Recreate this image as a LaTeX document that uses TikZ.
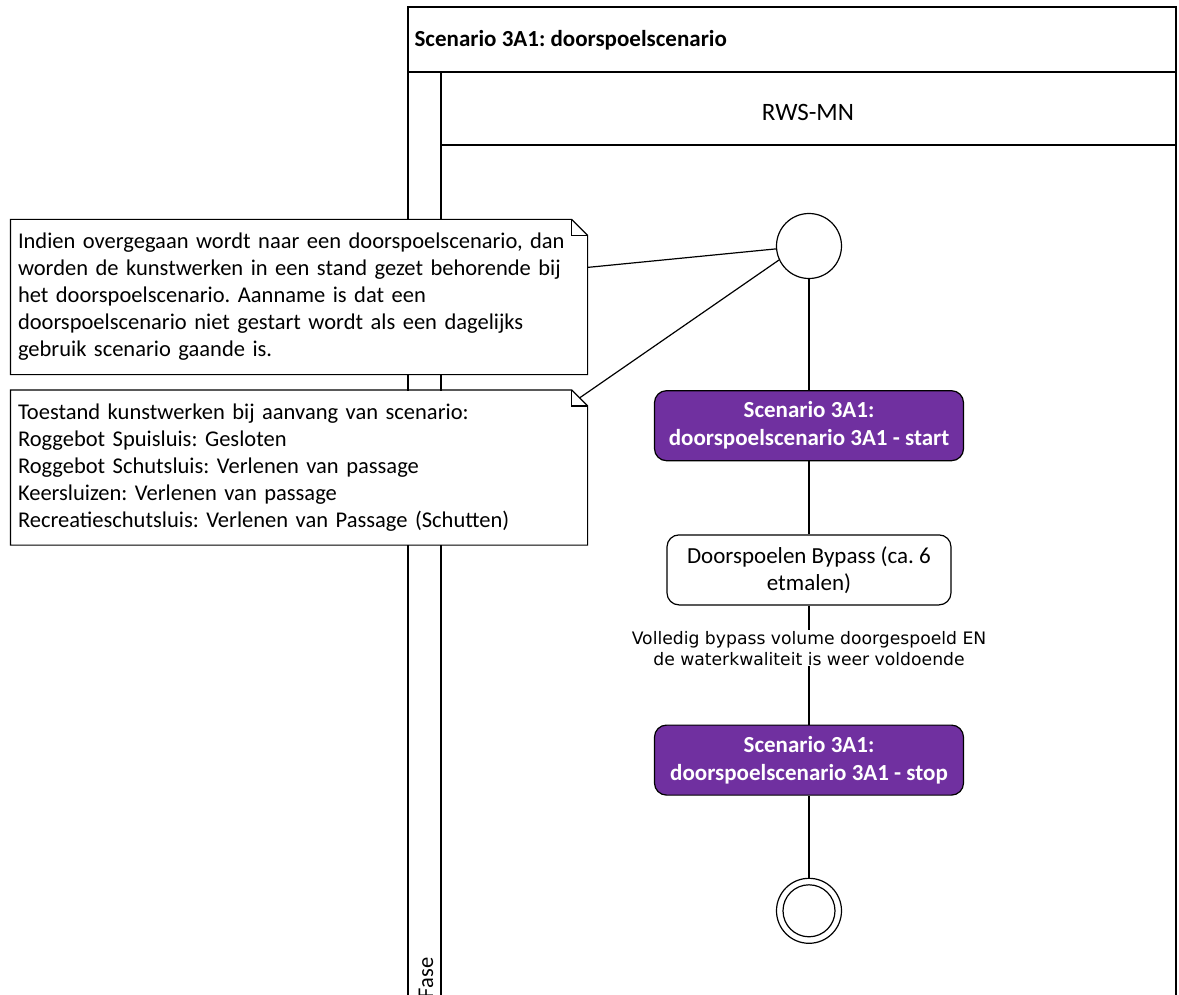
\documentclass[tikz,border=0pt]{standalone}
\usepackage{fontspec}
\setmainfont{Carlito}
\newfontfamily\labelfont{DejaVu Sans}
\usepackage{xcolor}
\usetikzlibrary{positioning}
\definecolor{scenpurple}{HTML}{7030A0}
\frenchspacing

\begin{document}
\begin{tikzpicture}[x=1pt,y=-1pt,>=latex,line width=1.2pt,
                    every node/.style={font=\fontsize{22.5}{27}\selectfont},
                    note/.style={minimum width=576pt, minimum height=154pt, text width=562pt,
                                 inner xsep=7pt, align=left, fill=white},
                    scenbox/.style={draw, rounded corners=12pt, fill=scenpurple, text=white,
                                    font=\fontsize{23}{28}\selectfont\bfseries, align=center,
                                    minimum width=309pt, minimum height=70pt},
                    actbox/.style={draw, rounded corners=12pt, fill=white, align=center,
                                   minimum width=284pt, minimum height=70pt,
                                   font=\fontsize{23}{27}\selectfont},
                    state/.style={draw, circle, minimum size=65pt, inner sep=0pt, fill=white},
                    guard/.style={fill=white, inner sep=1pt, align=center,
                                  font=\labelfont\fontsize{17.2}{21}\selectfont}]
\useasboundingbox (0,0) rectangle (1179,995);
% swimlane frame
\draw (408,7) rectangle (1176,1010);
\draw (408,72) -- (1176,72);
\draw (441,72) -- (441,1010);
\draw (441,145) -- (1176,145);
\node[anchor=west, inner xsep=0pt, font=\fontsize{23}{27}\selectfont\bfseries] (title) at (414,40) {Scenario 3A1: doorspoelscenario};
\node[font=\fontsize{25}{27}\selectfont] (lane) at (808,112) {RWS-MN};
\node[rotate=90, anchor=east, inner sep=0pt] (fase) at (426,957) {Fase};

% flow
\node[state] (init) at (809,246) {};
\node[scenbox, below=111pt of init] (start) {Scenario 3A1:\\doorspoelscenario 3A1 - start};
\node[actbox, below=73pt of start] (bypass) {Doorspoelen Bypass (ca. 6\\etmalen)};
\node[scenbox, below=119pt of bypass] (stop) {Scenario 3A1:\\doorspoelscenario 3A1 - stop};
\node[state, below=82pt of stop] (final) {};
\draw (final.center) circle[radius=26pt];
\draw (init) -- (start);
\draw (start) -- (bypass);
\draw (bypass) -- node[guard, pos=0.36] (cond) {Volledig bypass volume doorgespoeld EN\\de waterkwaliteit is weer voldoende} (stop);
\draw (stop) -- (final);

% notes
\node[note] (n1) at (299,297) {Indien overgegaan wordt naar een doorspoelscenario, dan\\worden de kunstwerken in een stand gezet behorende bij\\het doorspoelscenario. Aanname is dat een\\doorspoelscenario niet gestart wordt als een dagelijks\\gebruik scenario gaande is.};
\node[note] (n2) at (299,467.5) {Toestand kunstwerken bij aanvang van scenario:\\Roggebot Spuisluis: Gesloten\\Roggebot Schutsluis: Verlenen van passage\\Keersluizen: Verlenen van passage\\Recreatieschutsluis: Verlenen van Passage (Schutten)};
\foreach \n in {n1,n2} {
  \draw (\n.north west) -- ([xshift=-16pt]\n.north east) -- ([yshift=-16pt]\n.north east)
        -- (\n.south east) -- (\n.south west) -- cycle;
  \draw ([xshift=-16pt]\n.north east) |- ([yshift=-16pt]\n.north east);
}
\draw ([yshift=-48pt]n1.north east) -- (init.185);
\draw ([xshift=-8pt,yshift=-8pt]n2.north east) -- (init.205);
\end{tikzpicture}
\end{document}
